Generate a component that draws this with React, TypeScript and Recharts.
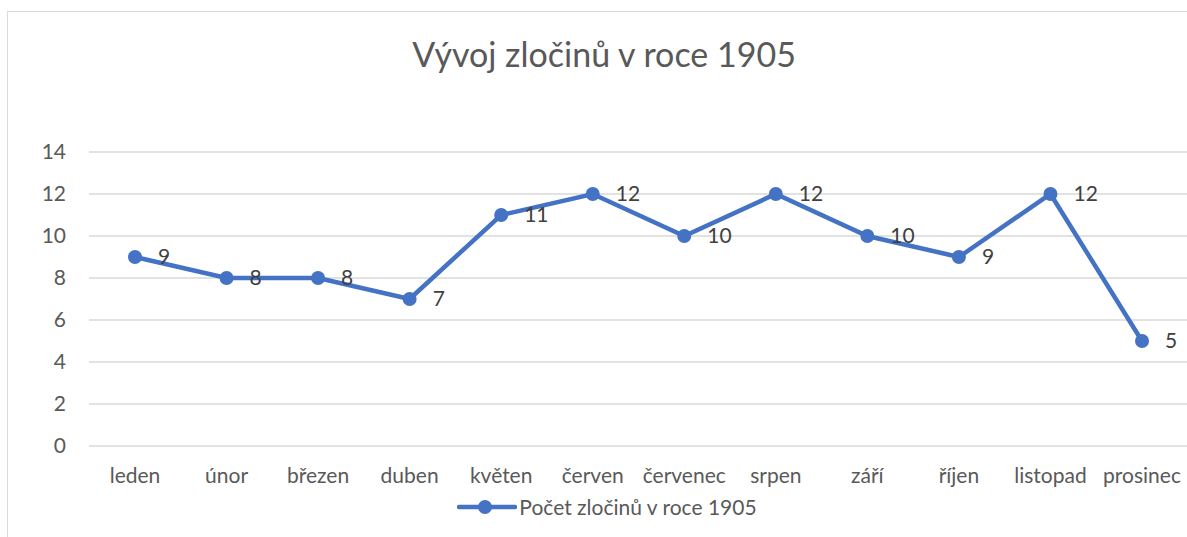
import React from 'react';
import { LineChart, Line, XAxis, YAxis, CartesianGrid, LabelList } from 'recharts';

const months = ['leden', 'únor', 'březen', 'duben', 'květen', 'červen', 'červenec', 'srpen', 'září', 'říjen', 'listopad', 'prosinec'];
const crimes = [9, 8, 8, 7, 11, 12, 10, 12, 10, 9, 12, 5];
const yTicks = [0, 2, 4, 6, 8, 10, 12, 14];

const seriesName = 'Počet zločinů v roce 1905';
const data = months.map((m, i) => ({ month: m, value: crimes[i] }));

const FONT = 'Lato, "Open Sans", sans-serif';
const BLUE = '#4472c4';

// legend drawn like Excel's: line with a marker in the middle
const ChartLegend = () => (
  <div style={{ position: 'absolute', left: 0, top: 494, width: 1214, display: 'flex', justifyContent: 'center', alignItems: 'center', fontFamily: FONT, fontSize: 21, color: '#595959' }}>
    <svg width={60} height={22} style={{ marginRight: 2 }}>
      <line x1={2} y1={11} x2={58} y2={11} stroke={BLUE} strokeWidth={4.5} strokeLinecap="round" />
      <circle cx={28} cy={11} r={7} fill={BLUE} />
    </svg>
    <span>{seriesName}</span>
  </div>
);

export default function App() {
  return (
    <div style={{ position: 'absolute', left: 0, top: 0, width: 1187, height: 537, overflow: 'hidden', background: '#fff' }}>
      <div style={{ position: 'absolute', left: 7, top: 11, width: 1200, height: 540, border: '1px solid #d9d9d9' }} />
      <div style={{ position: 'absolute', left: 0, top: 33, width: 1208, textAlign: 'center', fontFamily: FONT, fontSize: 34, color: '#595959' }}>
        Vývoj zločinů v roce 1905
      </div>
      <div style={{ position: 'absolute', left: 0, top: 0 }}>
        <LineChart width={1188} height={537} data={data} margin={{ top: 152, right: 0, left: 29, bottom: 0 }}>
          <CartesianGrid vertical={false} stroke="#d9d9d9" strokeWidth={1.5} />
          <XAxis dataKey="month" axisLine={false} tickLine={false} tickMargin={16} interval={0} height={91}
            padding={{ left: 46, right: 46 }}
            tick={{ fill: '#595959', fontFamily: FONT, fontSize: 21 }} />
          <YAxis domain={[0, 14]} ticks={yTicks} interval={0} axisLine={false} tickLine={false} width={60} tickMargin={17}
            tick={{ fill: '#595959', fontFamily: FONT, fontSize: 21 }} />
          <Line type="linear" dataKey="value" name={seriesName} stroke={BLUE} strokeWidth={4.5}
            dot={{ r: 7, fill: BLUE, stroke: BLUE, strokeWidth: 0 }} activeDot={false} isAnimationActive={false}>
            <LabelList dataKey="value" position="right" offset={23}
              style={{ fill: '#404040', fontFamily: FONT, fontSize: 21 }} />
          </Line>
        </LineChart>
      </div>
      <ChartLegend />
    </div>
  );
}
